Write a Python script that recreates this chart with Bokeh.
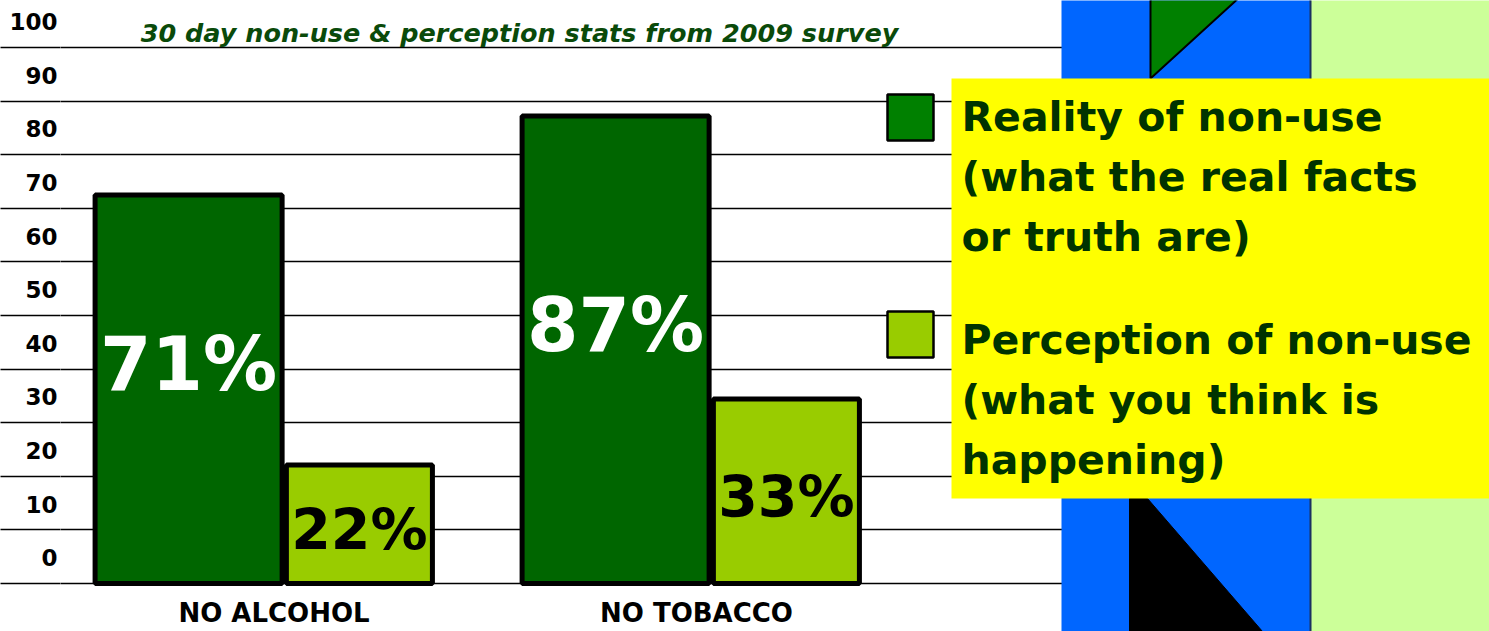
from bokeh.plotting import figure
from bokeh.models import Range1d, FixedTicker, ColumnDataSource
from bokeh.transform import dodge
from bokeh.core.properties import value
from bokeh.embed import file_html
from bokeh.resources import INLINE

# ---------------- data ----------------
categories = ["NO ALCOHOL", "NO  TOBACCO"]
reality_values = [72.5, 87.2]        # bar heights as drawn
perception_values = [22.1, 34.4]
reality_labels = ["71%", "87%"]
perception_labels = ["22%", "33%"]
y_ticks = [0, 10, 20, 30, 40, 50, 60, 70, 80, 90, 100]
y_tick_labels = ["0", "10", "20", "30", "40", "50", "60", "70", "80", "90", "100"]
title_text = "30 day non-use & perception stats from 2009 survey"
legend_reality = ["Reality of non-use", "(what the real facts", "or truth are)"]
legend_perception = ["Perception of non-use", "(what you think is", "happening)"]

# ---------------- styles ----------------
REALITY_COLOR = "#006600"
PERCEPTION_COLOR = "#99CC00"
LEGEND_REALITY_COLOR = "#008000"
LEGEND_TEXT_COLOR = "#003300"
TITLE_COLOR = "#0A4A0A"
FONT = "DejaVu Sans"

W, H = 1489, 631
FRAME_LEFT = 60          # px
PX_X = 427.0             # px per category
PX_Y = 5.36              # px per percent
# reference pixel -> data helpers (decoration placement only)
def dx(rx):
    return -0.5 + (rx - FRAME_LEFT) / PX_X
def dy(ry):
    return (583 - ry) / PX_Y

p = figure(width=W, height=H, output_backend="svg", toolbar_location=None,
           x_range=Range1d(dx(FRAME_LEFT), dx(W)), y_range=Range1d(dy(H), dy(0)),
           x_axis_location=None, min_border_left=FRAME_LEFT, min_border_right=0,
           min_border_top=0, min_border_bottom=0)
p.outline_line_color = None
p.background_fill_color = "white"
p.border_fill_color = "white"

# y axis: labels centred between gridlines, minor ticks extend gridlines to the left edge
lab_pos = [t + 4.8 for t in y_ticks]
ax = p.yaxis[0]
ax.ticker = FixedTicker(ticks=lab_pos, minor_ticks=y_ticks)
ax.major_label_overrides = {pos: lab for pos, lab in zip(lab_pos, y_tick_labels)}
ax.axis_line_color = None
ax.major_tick_line_color = None
ax.major_tick_out = 0
ax.minor_tick_in = 0
ax.minor_tick_out = FRAME_LEFT
ax.minor_tick_line_color = "black"
ax.minor_tick_line_width = 1.3
ax.major_label_standoff = 3 - FRAME_LEFT
ax.major_label_text_font = FONT
ax.major_label_text_font_style = "bold"
ax.major_label_text_font_size = "23px"
ax.major_label_text_color = "black"

p.ygrid.ticker = FixedTicker(ticks=y_ticks)
p.ygrid.grid_line_color = "black"
p.ygrid.grid_line_width = 1.3
p.ygrid.grid_line_alpha = 1.0
p.xgrid.grid_line_color = None

idx = list(range(len(categories)))
src = ColumnDataSource(dict(
    x=idx, cat=categories,
    reality=reality_values, perception=perception_values,
    rl=reality_labels, pl=perception_labels,
    ry=[v / 2 + 4.7 for v in reality_values],
    py=[v / 2 - 1.1 for v in perception_values],
    cy=[dy(612)] * len(categories),
))

p.vbar(x=dodge("x", -0.2), top="reality", bottom=0, width=0.438, source=src,
       fill_color=REALITY_COLOR, line_color="black", line_width=5)
p.vbar(x=dodge("x", 0.2), top="perception", bottom=0, width=0.342, source=src,
       fill_color=PERCEPTION_COLOR, line_color="black", line_width=5)

p.text(x=dodge("x", -0.2), y="ry", text="rl", source=src, text_align="center",
       text_baseline="middle", text_color="white", text_font=value(FONT),
       text_font_style="bold", text_font_size="74px")
p.text(x=dodge("x", 0.2), y="py", text="pl", source=src, text_align="center",
       text_baseline="middle", text_color="black", text_font=value(FONT),
       text_font_style="bold", text_font_size="57px")

# category labels
p.text(x="x", y="cy", text="cat", source=src, text_align="center",
       text_baseline="middle", text_color="black", text_font=value(FONT),
       text_font_style="bold", text_font_size="26px")

# title
p.text(x=[dx(519)], y=[dy(32)], text=[title_text], text_align="center",
       text_baseline="middle", text_color=TITLE_COLOR,
       text_font=value(FONT), text_font_style="bold italic",
       text_font_size="25.5px")

# decorative background on the right
p.quad(left=[dx(1061)], right=[dx(1310)], top=[dy(-5)], bottom=[dy(640)],
       fill_color="#0066FF", line_color=None)
p.quad(left=[dx(1310)], right=[dx(1500)], top=[dy(-5)], bottom=[dy(640)],
       fill_color="#CCFF99", line_color=None)
p.segment(x0=[dx(1310)], y0=[dy(-5)], x1=[dx(1310)], y1=[dy(640)],
          line_color="#1A3060", line_width=2)
p.patch(x=[dx(1150), dx(1241), dx(1150)], y=[dy(-5), dy(-5), dy(78)],
        fill_color="#008000", line_color="black", line_width=2)
p.patch(x=[dx(1129), dx(1147), dx(1262), dx(1129)], y=[dy(498), dy(498), dy(631), dy(631)],
        fill_color="black", line_color="black", line_width=1)
p.quad(left=[dx(951)], right=[dx(1500)], top=[dy(78)], bottom=[dy(498)],
       fill_color="#FFFF00", line_color=None)

# legend
p.quad(left=[dx(887), dx(887)], right=[dx(933), dx(933)],
       top=[dy(94), dy(311)], bottom=[dy(140), dy(357)],
       fill_color=[LEGEND_REALITY_COLOR, PERCEPTION_COLOR], line_color="black", line_width=2.5)
for mid, lines in ((116.5, legend_reality), (339, legend_perception)):
    p.text(x=[dx(961)] * len(lines), y=[dy(mid + 60 * i) for i in range(len(lines))],
           text=lines, text_align="left", text_baseline="middle",
           text_color=LEGEND_TEXT_COLOR, text_font=value(FONT),
           text_font_style="bold", text_font_size="41px")

open("out.html", "w").write(file_html(p, INLINE))
